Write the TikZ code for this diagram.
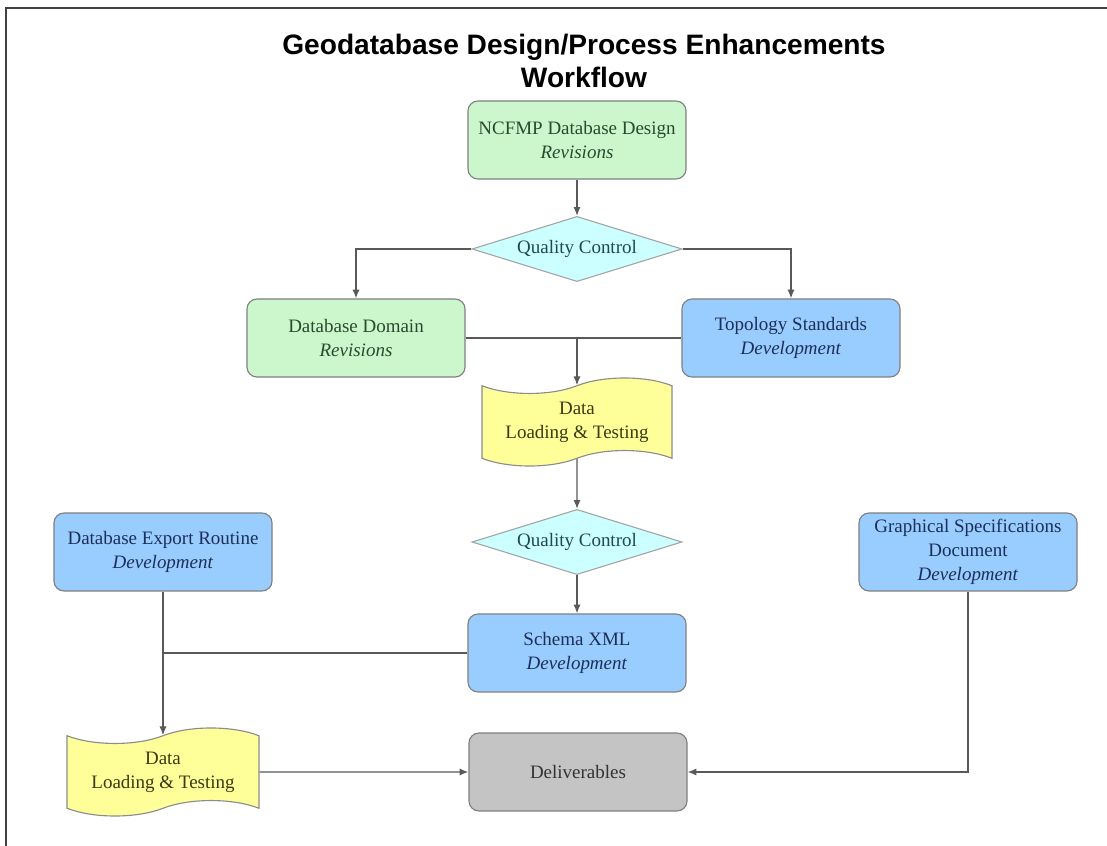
\documentclass[tikz,border=0pt]{standalone}
\usepackage{fontspec}
\setmainfont{Liberation Serif}
\newfontfamily\headfont{Liberation Sans}
\usetikzlibrary{arrows.meta, positioning, shapes.geometric, shapes.symbols}
\definecolor{revfill}{HTML}{CCF7CC}
\definecolor{revtext}{HTML}{2A4A2E}
\definecolor{devfill}{HTML}{99CCFF}
\definecolor{devtext}{HTML}{1C2F58}
\definecolor{qcfill}{HTML}{CCFFFF}
\definecolor{qctext}{HTML}{1F4A4A}
\definecolor{loadfill}{HTML}{FFFF99}
\definecolor{loadtext}{HTML}{3A3A14}
\definecolor{delfill}{HTML}{C4C4C4}
\tikzset{
  stepbox/.style  = {draw=black!50, line width=0.8pt, rounded corners=0.25cm,
                     minimum width=5.45cm, minimum height=1.95cm, align=center,
                     font=\fontsize{13.5}{17}\selectfont},
  revbox/.style   = {stepbox, fill=revfill, text=revtext},
  devbox/.style   = {stepbox, fill=devfill, text=devtext},
  qcbox/.style    = {diamond, aspect=3.2, draw=black!35, line width=0.8pt, fill=qcfill,
                     text=qctext, minimum width=5.25cm, minimum height=1.63cm,
                     inner sep=0pt, font=\fontsize{13.5}{17}\selectfont},
  loadbox/.style  = {tape, tape bend height=11pt, draw=black!45, line width=0.8pt,
                     fill=loadfill, text=loadtext, minimum width=4.75cm,
                     minimum height=2.2cm, align=center, font=\fontsize{13.5}{17}\selectfont},
  flow/.style     = {-{Latex[length=2.2mm, width=1.8mm]}, line width=1pt, draw=black!65},
  link/.style     = {line width=1pt, draw=black!65},
}

\begin{document}
\begin{tikzpicture}[x=0.025cm, y=-0.025cm]
  \useasboundingbox (0,0) rectangle (1107,846);
  \draw[line width=2pt, black!75] (6,846) -- (6,8) -- (1107,8);
  \node[font=\headfont\bfseries\fontsize{20}{23.5}\selectfont, align=center] (title) at (584,61)
    {Geodatabase Design/Process Enhancements\\Workflow};

  % upper part
  \node[revbox] (ncfmp) at (577,140) {NCFMP Database Design\\\textit{Revisions}};
  \node[qcbox] (qc1) at (577,249) {Quality Control};
  \node[revbox] (dd) at (356,338) {Database Domain\\\textit{Revisions}};
  \node[devbox] (ts) at (791,338) {Topology Standards\\\textit{Development}};
  \node[loadbox] (data1) at (577,422) {Data\\Loading \& Testing};
  \coordinate (join1) at (dd.east -| data1.north);

  % middle
  \node[qcbox] (qc2) at (577,542) {Quality Control};
  \node[devbox] (schema) at (577,653) {Schema XML\\\textit{Development}};
  \node[devbox] (der) at (163,552) {Database Export Routine\\\textit{Development}};
  \node[devbox, inner sep=2pt] (gsd) at (968,552)
    {Graphical Specifications\\Document\\\textit{Development}};

  % bottom
  \node[loadbox, minimum width=4.8cm] (data2) at (163,772) {Data\\Loading \& Testing};
  \node[stepbox, fill=delfill, text=black!80] (deliv) at (578,772) {Deliverables};
  \coordinate (join2) at (schema.west -| der.south);

  \draw[flow] (ncfmp) -- (qc1);
  \draw[flow] (qc1.west) -| (dd.north);
  \draw[flow] (qc1.east) -| (ts.north);
  \draw[link] (dd.east) -- (ts.west);
  \draw[flow] (join1) -- (data1.north);
  \draw[flow] (data1) -- (qc2);
  \draw[flow] (qc2) -- (schema);
  \draw[link] (schema.west) -- (join2);
  \draw[flow] (der) -- (data2.north);
  \draw[flow] (data2) -- (deliv);
  \draw[flow] (gsd.south) |- (deliv.east);
\end{tikzpicture}
\end{document}
